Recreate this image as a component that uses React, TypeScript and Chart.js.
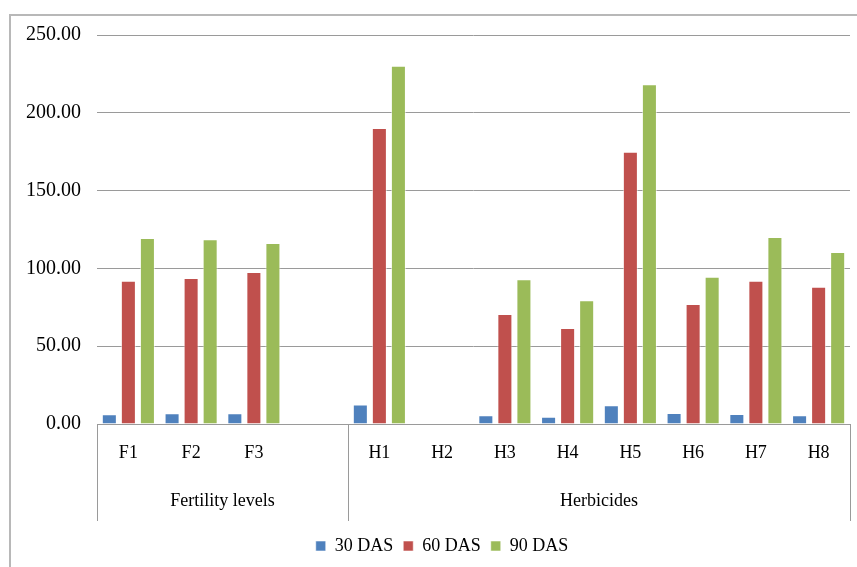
import React, { useEffect, useRef } from "react";
import { Chart, registerables } from "chart.js";

Chart.register(...registerables);

const categories = ["F1", "F2", "F3", "", "H1", "H2", "H3", "H4", "H5", "H6", "H7", "H8"];
const groupLabels = ["Fertility levels", "Herbicides"];
const groupSpans = [4, 8];
const das30 = [6.2, 6.9, 6.9, null, 12.6, 0, 5.6, 4.7, 12.0, 7.1, 6.4, 5.6];
const das60 = [92.1, 93.8, 97.7, null, 190.2, 0, 70.7, 61.7, 175.0, 77.1, 92.1, 88.2];
const das90 = [119.5, 118.7, 116.3, null, 230.3, 0, 93.0, 79.5, 218.3, 94.7, 120.2, 110.5];
const seriesNames = ["30 DAS", "60 DAS", "90 DAS"];
const yTicks = [0, 50, 100, 150, 200, 250];

const FONT = "'Liberation Serif', 'Times New Roman', serif";
const GRID = "#9a9a9a";

const groupPlugin = {
  id: "groupPlugin",
  afterLayout(chart: any) {
    const lg = chart.legend;
    if (lg) {
      lg.left += 12;
      lg.right += 12;
    }
  },
  afterDraw(chart: any) {
    const { ctx, chartArea } = chart;
    const x = chart.scales.x;
    const half = (x.getPixelForTick(1) - x.getPixelForTick(0)) / 2;
    const bounds: number[] = [x.left];
    let idx = 0;
    groupSpans.forEach((s) => {
      idx += s;
      bounds.push(x.getPixelForTick(idx - 1) + half);
    });
    const top = chartArea.bottom;
    const bottom = chartArea.bottom + 97;
    ctx.save();
    ctx.strokeStyle = GRID;
    ctx.lineWidth = 1;
    bounds.forEach((b) => {
      const px = Math.round(b) + 0.5;
      ctx.beginPath();
      ctx.moveTo(px, top);
      ctx.lineTo(px, bottom);
      ctx.stroke();
    });
    ctx.fillStyle = "#000";
    ctx.font = `18px ${FONT}`;
    ctx.textAlign = "center";
    ctx.textBaseline = "middle";
    groupLabels.forEach((g, i) => {
      ctx.fillText(g, (bounds[i] + bounds[i + 1]) / 2, chartArea.bottom + 77);
    });
    ctx.restore();
  },
};

export default function App() {
  const ref = useRef<HTMLCanvasElement | null>(null);
  useEffect(() => {
    if (!ref.current) return;
    const mk = (label: string, data: (number | null)[], color: string) => ({
      label,
      data,
      backgroundColor: color,
      borderColor: "rgba(255,255,255,0.55)",
      borderWidth: 1,
      categoryPercentage: 0.91,
      barPercentage: 0.79,
    });
    const chart = new Chart(ref.current, {
      type: "bar",
      data: {
        labels: categories,
        datasets: [
          mk(seriesNames[0], das30, "#4F81BD"),
          mk(seriesNames[1], das60, "#C0504D"),
          mk(seriesNames[2], das90, "#9BBB59"),
        ],
      },
      options: {
        animation: false,
        responsive: false,
        maintainAspectRatio: false,
        layout: { padding: { top: 35, left: 10, right: 7, bottom: 2 } },
        plugins: {
          legend: {
            position: "bottom",
            labels: {
              boxWidth: 10,
              boxHeight: 10,
              padding: 10,
              color: "#000",
              font: { family: FONT, size: 18 },
            },
          },
          tooltip: { enabled: false },
        },
        scales: {
          x: {
            grid: { display: false, drawTicks: false },
            border: { display: true, color: GRID, width: 1 },
            ticks: {
              color: "#000",
              font: { family: FONT, size: 18 },
              padding: 18,
              maxRotation: 0,
              autoSkip: false,
            },
            afterFit: (s: any) => {
              s.height = 103;
            },
          },
          y: {
            min: 0,
            max: 250,
            afterBuildTicks: (s: any) => {
              s.ticks = yTicks.map((v) => ({ value: v }));
            },
            grid: { color: GRID, lineWidth: 1, drawTicks: false },
            border: { display: false },
            ticks: {
              color: "#000",
              font: { family: FONT, size: 20 },
              padding: 16,
              callback: (v: any) => Number(v).toFixed(2),
            },
            afterFit: (s: any) => {
              s.width = 87;
            },
          },
        },
      },
      plugins: [groupPlugin],
    });
    return () => chart.destroy();
  }, []);

  return (
    <div
      style={{
        position: "fixed",
        left: 0,
        top: 0,
        width: 857,
        height: 567,
        overflow: "hidden",
        background: "#fff",
      }}
    >
      <div
        style={{
          position: "absolute",
          left: 9,
          top: 14,
          width: 900,
          height: 600,
          border: "2px solid #b8b8b8",
        }}
      />
      <canvas
        ref={ref}
        width={857}
        height={567}
        style={{ position: "absolute", left: 0, top: 0, width: 857, height: 567 }}
      />
    </div>
  );
}
